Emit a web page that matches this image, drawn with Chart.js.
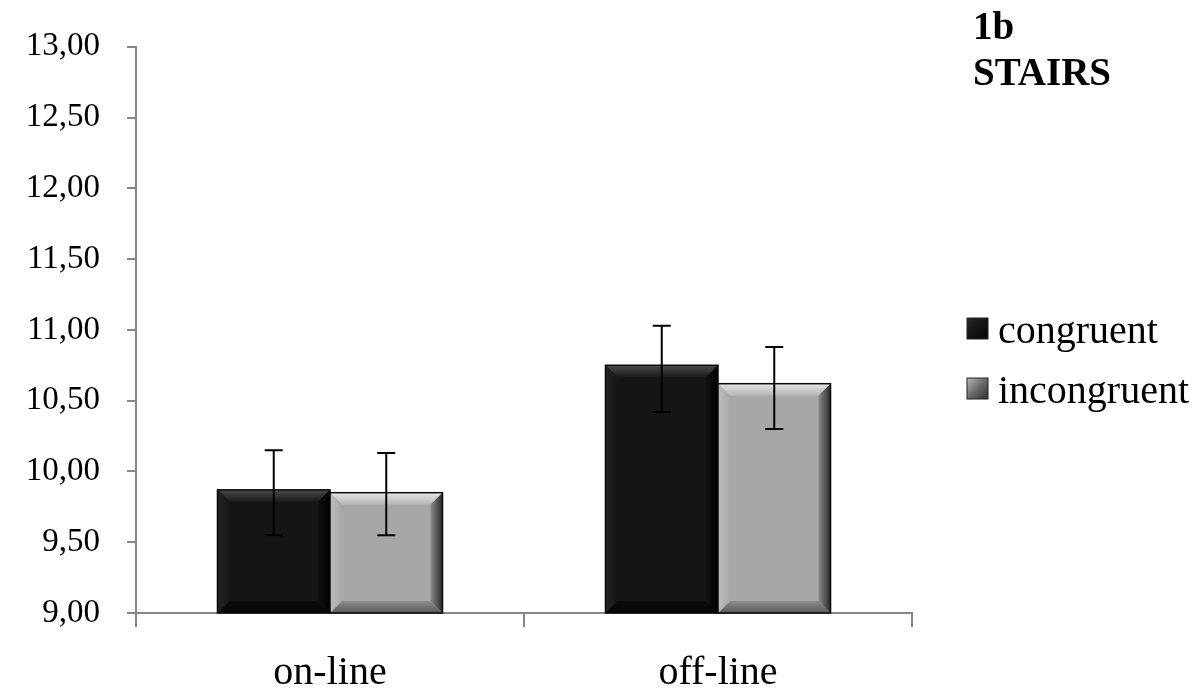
<!DOCTYPE html>
<html>
<head>
<meta charset="utf-8">
<script src="https://cdn.jsdelivr.net/npm/chart.js@4"></script>
<style>
  html, body { margin: 0; padding: 0; background: #fff; }
  #wrap { width: 1201px; height: 693px; }
</style>
</head>
<body>
<div id="wrap"><canvas id="chart" width="1201" height="693"></canvas></div>
<script>
// values
const categories = ['on-line', 'off-line'];
const seriesNames = ['congruent', 'incongruent'];
const congruent = [9.87, 10.75];
const incongruent = [9.85, 10.62];
const congruentLow = [9.55, 10.42];
const congruentHigh = [10.15, 11.03];
const incongruentLow = [9.55, 10.30];
const incongruentHigh = [10.13, 10.88];
const yTicks = [9, 9.5, 10, 10.5, 11, 11.5, 12, 12.5, 13];
const titleLines = ['1b', 'STAIRS'];

const serif = "'Liberation Serif', 'Times New Roman', serif";
const axisGrey = '#868686';

// bevel look of the Excel bars
const bevelStyles = [
  { top: ['#4a4a4a', '#1a1a1a'], right: ['#111', '#000'], bottom: ['#0c0c0c', '#050505'], left: ['#222', '#161616'] },
  { top: ['#e6e6e6', '#b4b4b4'], right: ['#8a8a8a', '#2a2a2a'], bottom: ['#8c8c8c', '#5a5a5a'], left: ['#bdbdbd', '#a8a8a8'] }
];

function band(ctx, pts, g0, g1, x0, y0, x1, y1) {
  const grad = ctx.createLinearGradient(x0, y0, x1, y1);
  grad.addColorStop(0, g0);
  grad.addColorStop(1, g1);
  ctx.fillStyle = grad;
  ctx.beginPath();
  ctx.moveTo(pts[0][0], pts[0][1]);
  for (let i = 1; i < pts.length; i++) ctx.lineTo(pts[i][0], pts[i][1]);
  ctx.closePath();
  ctx.fill();
}

const bevelPlugin = {
  id: 'bevel',
  afterDatasetsDraw(chart) {
    const ctx = chart.ctx;
    const area = chart.chartArea;
    const b = 12;
    chart.data.datasets.forEach((ds, di) => {
      const st = bevelStyles[di];
      chart.getDatasetMeta(di).data.forEach(bar => {
        const p = bar.getProps(['x', 'y', 'base', 'width'], true);
        const l = p.x - p.width / 2, r = p.x + p.width / 2, t = p.y;
        const bt = Math.min(p.base, area.bottom);
        ctx.save();
        band(ctx, [[l, t], [r, t], [r - b, t + b], [l + b, t + b]], st.top[0], st.top[1], 0, t, 0, t + b);
        band(ctx, [[r, t], [r, bt], [r - b, bt - b], [r - b, t + b]], st.right[1], st.right[0], r, 0, r - b, 0);
        band(ctx, [[l, bt], [r, bt], [r - b, bt - b], [l + b, bt - b]], st.bottom[1], st.bottom[0], 0, bt, 0, bt - b);
        band(ctx, [[l, t], [l, bt], [l + b, bt - b], [l + b, t + b]], st.left[0], st.left[1], l, 0, l + b, 0);
        ctx.strokeStyle = '#0a0a0a';
        ctx.lineWidth = 1.5;
        ctx.strokeRect(l, t, r - l, bt - t);
        ctx.restore();
      });
    });
  }
};

const errorBarPlugin = {
  id: 'errorBars',
  afterDatasetsDraw(chart) {
    const ctx = chart.ctx;
    const yScale = chart.scales.y;
    const lows = [congruentLow, incongruentLow];
    const highs = [congruentHigh, incongruentHigh];
    ctx.save();
    ctx.strokeStyle = '#000';
    ctx.lineWidth = 2;
    chart.data.datasets.forEach((ds, di) => {
      chart.getDatasetMeta(di).data.forEach((bar, i) => {
        const x = bar.x;
        const yLo = yScale.getPixelForValue(lows[di][i]);
        const yHi = yScale.getPixelForValue(highs[di][i]);
        ctx.beginPath();
        ctx.moveTo(x, yLo); ctx.lineTo(x, yHi);
        ctx.moveTo(x - 9, yLo); ctx.lineTo(x + 9, yLo);
        ctx.moveTo(x - 9, yHi); ctx.lineTo(x + 9, yHi);
        ctx.stroke();
      });
    });
    ctx.restore();
  }
};

// title block and legend in the right margin
const sideTextPlugin = {
  id: 'sideText',
  afterDraw(chart) {
    const ctx = chart.ctx;
    ctx.save();
    ctx.fillStyle = '#000';
    ctx.textAlign = 'left';
    ctx.textBaseline = 'alphabetic';
    ctx.font = 'bold 39px ' + serif;
    ctx.fillText(titleLines[0], 973, 39);
    ctx.fillText(titleLines[1], 973, 85);

    ctx.font = '40px ' + serif;
    const rows = [343, 403];
    seriesNames.forEach((name, i) => {
      const sx = 967, sy = rows[i] - 25, s = 21;
      const g = ctx.createLinearGradient(sx, sy, sx + s, sy + s);
      g.addColorStop(0, i === 0 ? '#2a2a2a' : '#b8b8b8');
      g.addColorStop(0.5, i === 0 ? '#141414' : '#6a6a6a');
      g.addColorStop(1, i === 0 ? '#050505' : '#2e2e2e');
      ctx.fillStyle = g;
      ctx.fillRect(sx, sy, s, s);
      ctx.strokeStyle = '#222';
      ctx.lineWidth = 1;
      ctx.strokeRect(sx, sy, s, s);
      ctx.fillStyle = '#000';
      ctx.fillText(name, 998, rows[i]);
    });
    ctx.restore();
  }
};

new Chart(document.getElementById('chart').getContext('2d'), {
  type: 'bar',
  data: {
    labels: categories,
    datasets: [
      { label: seriesNames[0], data: congruent, backgroundColor: '#151515', borderWidth: 0 },
      { label: seriesNames[1], data: incongruent, backgroundColor: '#a7a7a7', borderWidth: 0 }
    ]
  },
  options: {
    responsive: false,
    animation: false,
    events: [],
    layout: { padding: { top: 26, right: 289, bottom: 0, left: 0 } },
    plugins: {
      legend: { display: false },
      title: { display: false },
      tooltip: { enabled: false }
    },
    datasets: { bar: { categoryPercentage: 0.58, barPercentage: 1.0 } },
    scales: {
      x: {
        afterFit(scale) { scale.height = 80; },
        grid: { offset: true, drawOnChartArea: false, drawTicks: true, tickLength: 14, color: axisGrey, lineWidth: 2 },
        border: { display: true, color: axisGrey, width: 2 },
        ticks: { color: '#000', padding: 26, font: { family: serif, size: 40, lineHeight: 1.0 } }
      },
      y: {
        min: 9,
        max: 13,
        afterFit(scale) { scale.width = 136; },
        afterBuildTicks(scale) { scale.ticks = yTicks.map(v => ({ value: v })); },
        grid: { drawOnChartArea: false, drawTicks: true, tickLength: 9, color: axisGrey, lineWidth: 2 },
        border: { display: true, color: axisGrey, width: 2 },
        ticks: {
          color: '#000',
          padding: 27,
          font: { family: serif, size: 33 },
          callback: v => v.toFixed(2).replace('.', ',')
        }
      }
    }
  },
  plugins: [bevelPlugin, errorBarPlugin, sideTextPlugin]
});
</script>
</body>
</html>
